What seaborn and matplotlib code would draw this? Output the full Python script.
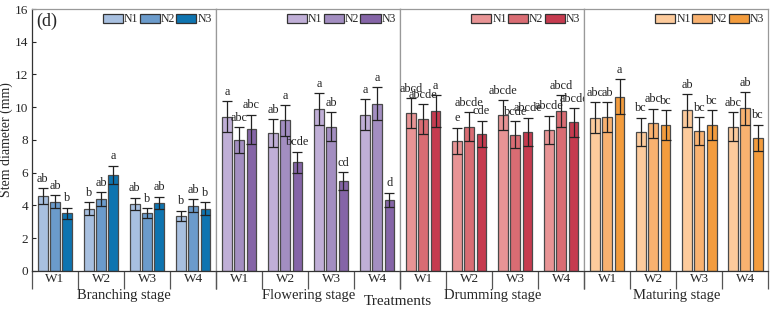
import numpy as np
import pandas as pd
import seaborn as sns
import matplotlib.pyplot as plt
from matplotlib.patches import Patch

stages = ["Branching stage", "Flowering stage", "Drumming stage", "Maturing stage"]
water = ["W1", "W2", "W3", "W4"]
nitro = ["N1", "N2", "N3"]

# mean stem diameter, rows = W1..W4, cols = N1..N3
branching = [[4.58, 4.23, 3.52], [3.80, 4.38, 5.86], [4.09, 3.52, 4.15], [3.36, 3.97, 3.79]]
flowering = [[9.42, 8.00, 8.65], [8.41, 9.20, 6.64], [9.89, 8.81, 5.50], [9.55, 10.22, 4.35]]
drumming = [[9.63, 9.28, 9.77], [7.96, 8.81, 8.37], [9.51, 8.31, 8.51], [8.61, 9.77, 9.08]]
maturing = [[9.36, 9.38, 10.63], [8.51, 9.02, 8.90], [9.81, 8.53, 8.90], [8.81, 9.93, 8.12]]

branching_err = [[0.47, 0.40, 0.35], [0.38, 0.43, 0.57], [0.39, 0.30, 0.39], [0.32, 0.40, 0.40]]
flowering_err = [[0.96, 0.79, 0.90], [0.85, 0.94, 0.65], [0.96, 0.87, 0.53], [0.93, 1.00, 0.43]]
drumming_err = [[0.92, 0.90, 0.96], [0.79, 0.89, 0.81], [0.93, 0.83, 0.85], [0.88, 0.96, 0.87]]
maturing_err = [[0.94, 0.92, 1.07], [0.85, 0.89, 0.90], [1.00, 0.85, 0.90], [0.89, 1.00, 0.81]]

branching_sig = [["ab", "ab", "b"], ["b", "ab", "a"], ["ab", "b", "ab"], ["b", "ab", "b"]]
flowering_sig = [["a", "abc", "abc"], ["ab", "a", "bcde"], ["a", "ab", "cd"], ["a", "a", "d"]]
drumming_sig = [["abcd", "abcde", "a"], ["e", "abcde", "cde"], ["abcde", "bcde", "abcde"], ["abcde", "abcd", "abcde"]]
maturing_sig = [["abc", "ab", "a"], ["bc", "abc", "bc"], ["ab", "bc", "bc"], ["abc", "ab", "bc"]]

palettes = [
    ["#A8C0E0", "#6B9BCB", "#0E74B0"],
    ["#C0AFD7", "#A38EC1", "#8565A7"],
    ["#E89495", "#D96C73", "#C63B4F"],
    ["#FDCB9C", "#F9B270", "#F39C3D"],
]

means = [branching, flowering, drumming, maturing]
errs = [branching_err, flowering_err, drumming_err, maturing_err]
sigs = [branching_sig, flowering_sig, drumming_sig, maturing_sig]

sns.set_style("white")
plt.rcParams["font.family"] = ["Liberation Serif", "DejaVu Serif"]

fig, axes = plt.subplots(1, 4, figsize=(7.73, 3.11), dpi=100, sharey=True)
fig.subplots_adjust(left=0.0415, right=0.994, bottom=0.129, top=0.971, wspace=0)

for k, ax in enumerate(axes):
    rows = []
    for i, w in enumerate(water):
        for j, n in enumerate(nitro):
            rows.append({"W": w, "N": n, "val": means[k][i][j],
                         "err": errs[k][i][j], "sig": sigs[k][i][j]})
    df = pd.DataFrame(rows)
    sns.barplot(data=df, x="W", y="val", hue="N", palette=palettes[k],
                order=water, hue_order=nitro, errorbar=None, width=0.8, gap=0.2,
                edgecolor="#4a4a4a", linewidth=0.9, saturation=1, ax=ax, legend=False)

    # bars come in hue order: all N1, then N2, then N3
    for j, n in enumerate(nitro):
        for i, w in enumerate(water):
            p = ax.patches[j * 4 + i]
            xc = p.get_x() + p.get_width() / 2
            h = p.get_height()
            e = df[(df.W == w) & (df.N == n)]
            ev = e["err"].iloc[0]
            ax.errorbar(xc, h, yerr=ev, color="#222222", capsize=3.5,
                        elinewidth=0.9, capthick=0.9)
            ax.text(xc, h + ev + 0.2, e["sig"].iloc[0], ha="center", va="bottom",
                    fontsize=8.8, color="#222222")

    ax.set_ylim(0, 16)
    ax.set_xlim(-0.5, 3.5)
    ax.set_xticks([-0.5, 0.5, 1.5, 2.5, 3.5])
    ax.set_xticklabels([])
    ax.set_xticks([0, 1, 2, 3], minor=True)
    ax.set_xticklabels(water, minor=True, fontsize=9.5)
    ax.tick_params(axis="x", which="major", direction="out", length=13, width=0.9,
                   color="#555555", bottom=True)
    ax.tick_params(axis="x", which="minor", length=0, pad=1.5)
    ax.set_xlabel(stages[k], fontsize=10.5, labelpad=-3.5)
    for s in ["top", "right"]:
        ax.spines[s].set_color("#999999")
        ax.spines[s].set_linewidth(0.9)
    ax.spines["bottom"].set_color("#333333")
    ax.spines["left"].set_color("#999999" if k > 0 else "#333333")
    ax.spines["left"].set_linewidth(0.9)
    ax.spines["bottom"].set_linewidth(0.9)

    handles = [Patch(facecolor=c, edgecolor="#333333", linewidth=0.9) for c in palettes[k]]
    ax.legend(handles, nitro, loc="upper right", ncol=3, frameon=False, fontsize=8.5,
              handlelength=1.7, handleheight=0.8, handletextpad=0.1, columnspacing=0.1,
              borderaxespad=0.1, borderpad=0.25, bbox_to_anchor=(1.0, 1.0))

axes[0].set_ylabel("Stem diameter (mm)", fontsize=10, labelpad=1)
axes[0].set_yticks(np.arange(0, 17, 2))
axes[0].tick_params(axis="y", direction="in", length=3, left=True, labelsize=9.5, pad=3)
for ax in axes[1:]:
    ax.tick_params(axis="y", left=False)
axes[0].text(0.02, 0.985, "(d)", transform=axes[0].transAxes, ha="left", va="top", fontsize=13)

fig.text(0.515, 0.01, "Treatments", ha="center", va="bottom", fontsize=11)

fig.savefig("out.png", dpi=100)
